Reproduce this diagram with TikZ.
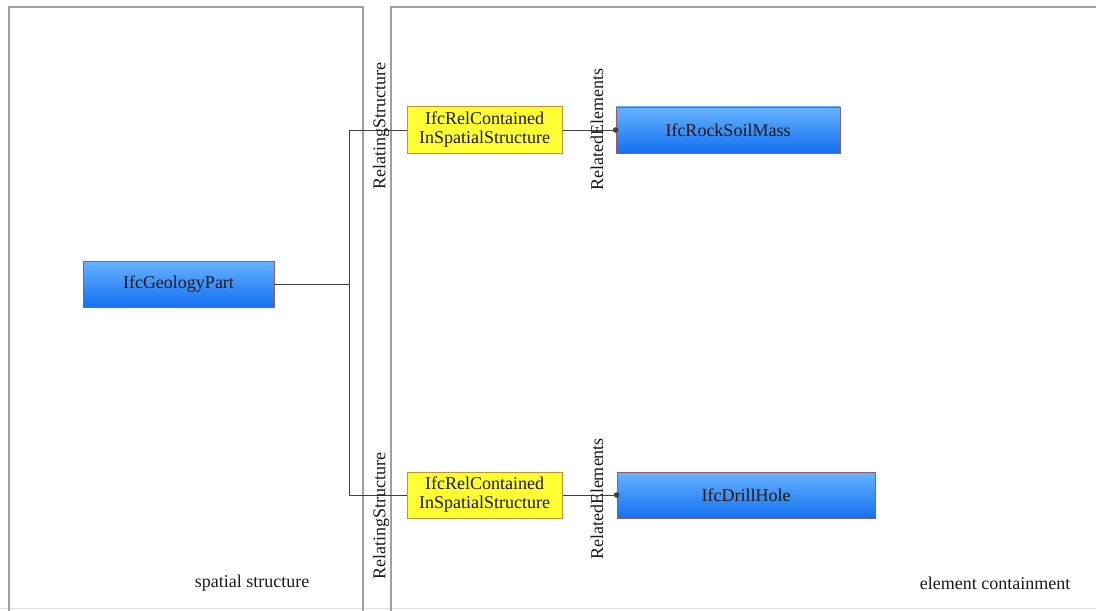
\documentclass[tikz,border=0pt]{standalone}
\usepackage{fontspec}
\setmainfont{Liberation Serif}
\definecolor{entTop}{HTML}{66B3FF}
\definecolor{entBot}{HTML}{1470F0}
\definecolor{entLine}{HTML}{A05A5A}
\definecolor{relFill}{HTML}{FFFF33}
\definecolor{relLine}{HTML}{C8903C}
\definecolor{wireGray}{HTML}{404040}
\begin{document}
\begin{tikzpicture}[x=0.5pt, y=-0.5pt, font=\fontsize{9}{10.5}\selectfont,
    panel/.style={draw=gray!75, line width=0.9pt},
    entity/.style={draw=entLine, line width=0.4pt, top color=entTop, bottom color=entBot,
        text=black!90, minimum height=23pt, inner sep=0pt},
    relbox/.style={draw=relLine, line width=0.5pt, fill=relFill, text=black!90,
        minimum width=77.5pt, minimum height=23pt, inner sep=0pt, align=center,
        font=\fontsize{9}{9.5}\selectfont},
    wire/.style={draw=wireGray, line width=0.5pt},
    rolelabel/.style={rotate=90, text=black!90, inner sep=0pt}]
    \useasboundingbox (0,0) rectangle (1096,610);
    \clip (0,0) rectangle (1096,610);

    % Panels
    \draw[gray!25, line width=0.5pt] (0,608) -- (1096,608);
    \draw[panel] (9,612) |- (363,7) -- (363,612);
    \draw[panel] (391,612) |- (1110,7);
    \node[text=black!90] (lblSpatial) at (252,583) {spatial structure};
    \node[text=black!90] (lblContain) at (995,583) {element containment};

    % Left: spatial element
    \node[entity, minimum width=95.5pt] (geo) at (178.5,284) {IfcGeologyPart};
    \coordinate (jn) at (349,284);

    % Relationships
    \node[relbox] (relA) at (484.5,130) {IfcRelContained\\InSpatialStructure};
    \node[relbox] (relB) at (484.5,495) {IfcRelContained\\InSpatialStructure};

    % Right: contained elements
    \node[entity, minimum width=112pt] (rock) at (728,130) {IfcRockSoilMass};
    \node[entity, minimum width=129pt] (drill) at (746,495) {IfcDrillHole};

    % Wires
    \draw[wire] (geo.east) -- (jn);
    \draw[wire] (jn) |- (relA.west);
    \draw[wire] (jn) |- (relB.west);
    \draw[wire] (relA.east) -- (rock.west);
    \draw[wire] (relB.east) -- (drill.west);
    \foreach \e in {rock, drill} {
        \fill[wireGray] (\e.west) circle (1.4pt);
    }

    % Role labels
    \node[rolelabel] (rsA) at (381,126) {RelatingStructure};
    \node[rolelabel] (rsB) at (381,516) {RelatingStructure};
    \node[rolelabel] (reA) at (597,130) {RelatedElements};
    \node[rolelabel] (reB) at (597,499) {RelatedElements};
\end{tikzpicture}
\end{document}
